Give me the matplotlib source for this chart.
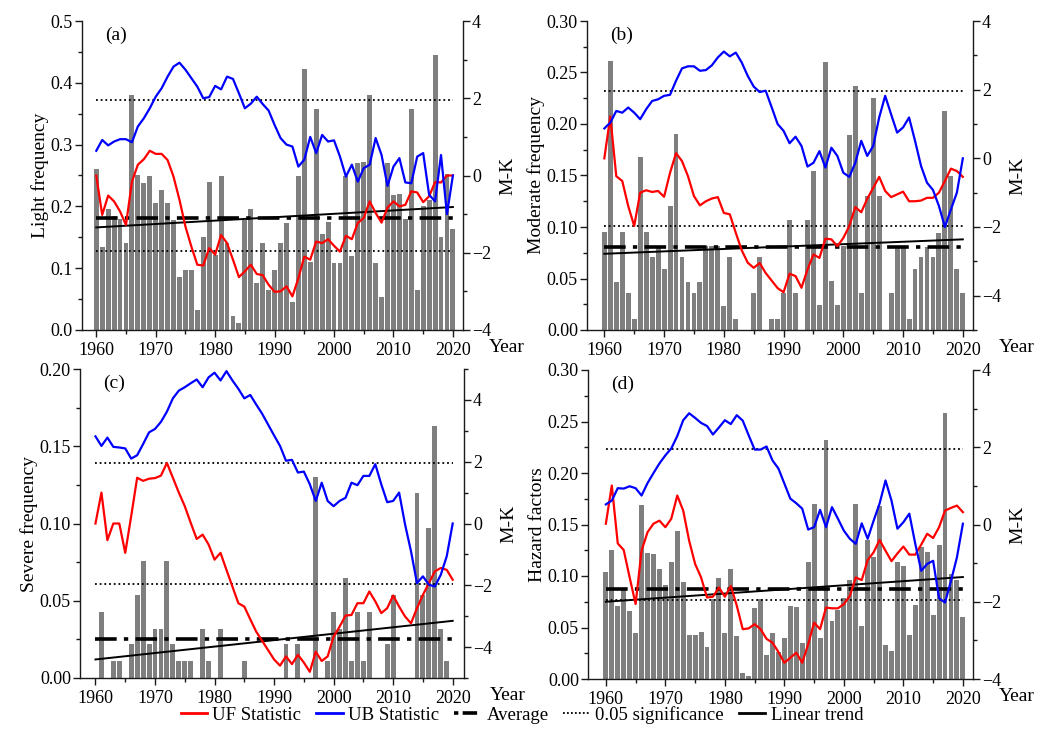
import matplotlib
matplotlib.use('Agg')
import matplotlib.pyplot as plt
from matplotlib.ticker import MultipleLocator, FormatStrFormatter
from matplotlib.lines import Line2D

plt.rcParams['font.family'] = ['Liberation Serif', 'DejaVu Serif']

years = list(range(1960, 2021))

# ---------------- (a) Light frequency ----------------
light_freq = [0.26, 0.134, 0.195, 0.184, 0.18, 0.141, 0.38, 0.251, 0.238, 0.25,
              0.206, 0.227, 0.206, 0.178, 0.086, 0.097, 0.097, 0.032, 0.151, 0.239,
              0.121, 0.25, 0.14, 0.022, 0.011, 0.178, 0.195, 0.076, 0.141, 0.065,
              0.097, 0.14, 0.173, 0.045, 0.249, 0.423, 0.11, 0.358, 0.155, 0.175,
              0.108, 0.108, 0.25, 0.119, 0.271, 0.272, 0.38, 0.108, 0.054, 0.271,
              0.218, 0.22, 0.18, 0.358, 0.065, 0.2, 0.21, 0.445, 0.151, 0.253, 0.163]
light_uf = [0.0, -1.02, -0.52, -0.67, -0.93, -1.28, -0.16, 0.28, 0.42, 0.64,
            0.56, 0.56, 0.4, -0.03, -0.63, -1.32, -1.84, -2.31, -2.33, -1.88,
            -2.05, -1.54, -1.75, -2.18, -2.63, -2.48, -2.31, -2.55, -2.58, -2.83,
            -3.01, -3.0, -2.87, -3.13, -2.66, -2.1, -2.18, -1.71, -1.75, -1.65,
            -1.82, -1.97, -1.56, -1.65, -1.23, -1.1, -0.67, -0.97, -1.22, -0.83,
            -0.67, -0.8, -0.76, -0.41, -0.44, -0.69, -0.54, -0.17, -0.18, 0.0, 0.0]
light_ub = [0.64, 0.92, 0.78, 0.88, 0.94, 0.94, 0.86, 1.27, 1.48, 1.74,
            2.04, 2.26, 2.56, 2.82, 2.92, 2.74, 2.52, 2.3, 2.0, 2.03,
            2.32, 2.23, 2.56, 2.5, 2.13, 1.74, 1.86, 2.04, 1.85, 1.68,
            1.31, 0.97, 0.8, 0.75, 0.23, 0.41, 1.0, 0.58, 1.05, 0.88,
            0.91, 0.49, -0.03, 0.28, -0.16, 0.19, 0.28, 0.97, 0.53, -0.27,
            0.23, 0.45, -0.18, -0.2, 0.49, 0.58, -0.5, -0.67, 0.53, -1.0, 0.0]
light_avg = 0.182
light_trend = [0.166, 0.199]

# ---------------- (b) Moderate frequency ----------------
moderate_freq = [0.095, 0.261, 0.047, 0.095, 0.036, 0.011, 0.168, 0.095, 0.071, 0.082,
                 0.059, 0.12, 0.19, 0.071, 0.047, 0.036, 0.047, 0.082, 0.082, 0.082,
                 0.023, 0.071, 0.011, 0.0, 0.0, 0.036, 0.071, 0.0, 0.011, 0.011,
                 0.036, 0.107, 0.036, 0.0, 0.107, 0.154, 0.024, 0.26, 0.048, 0.024,
                 0.082, 0.189, 0.237, 0.036, 0.13, 0.225, 0.13, 0.0, 0.036, 0.082,
                 0.082, 0.011, 0.059, 0.071, 0.081, 0.071, 0.094, 0.213, 0.15, 0.059, 0.036]
moderate_uf = [0.0, 1.22, -0.52, -0.66, -1.39, -1.97, -1.0, -0.93, -0.98, -0.95,
               -1.12, -0.42, 0.15, -0.08, -0.52, -1.1, -1.37, -1.25, -1.17, -1.13,
               -1.59, -1.63, -2.17, -2.68, -3.04, -3.19, -3.05, -3.34, -3.56, -3.78,
               -3.9, -3.36, -3.43, -3.77, -3.24, -2.8, -2.9, -2.34, -2.36, -2.56,
               -2.32, -1.97, -1.42, -1.57, -1.18, -0.86, -0.54, -0.95, -1.13, -1.05,
               -0.97, -1.25, -1.25, -1.23, -1.15, -1.15, -1.0, -0.66, -0.3, -0.37, -0.54]
moderate_ub = [0.87, 1.04, 1.38, 1.33, 1.48, 1.33, 1.14, 1.43, 1.67, 1.72,
               1.82, 1.85, 2.26, 2.62, 2.68, 2.68, 2.55, 2.57, 2.71, 2.94,
               3.11, 2.97, 3.08, 2.79, 2.4, 2.09, 1.93, 1.97, 1.49, 1.0,
               0.8, 0.44, 0.63, 0.36, -0.24, -0.13, 0.21, -0.27, 0.31, 0.07,
               -0.42, -0.54, -0.13, 0.51, 0.07, 0.36, 1.19, 1.82, 1.28, 0.75,
               0.9, 1.19, 0.51, -0.22, -0.71, -0.92, -1.39, -2.0, -1.49, -1.0, 0.0]
moderate_avg = 0.081
moderate_trend = [0.074, 0.088]

# ---------------- (c) Severe frequency ----------------
severe_freq = [0.0, 0.043, 0.0, 0.011, 0.011, 0.0, 0.022, 0.054, 0.076, 0.022,
               0.032, 0.032, 0.076, 0.022, 0.011, 0.011, 0.011, 0.0, 0.032, 0.011,
               0.0, 0.032, 0.0, 0.0, 0.0, 0.011, 0.0, 0.0, 0.0, 0.0,
               0.0, 0.0, 0.022, 0.0, 0.022, 0.0, 0.0, 0.13, 0.0, 0.011,
               0.043, 0.032, 0.065, 0.011, 0.043, 0.011, 0.043, 0.0, 0.0, 0.022,
               0.054, 0.0, 0.0, 0.0, 0.12, 0.054, 0.097, 0.163, 0.032, 0.011, 0.0]
severe_uf = [0.0, 1.0, -0.54, 0.0, 0.0, -0.95, 0.24, 1.48, 1.38, 1.45,
             1.47, 1.55, 1.96, 1.48, 1.0, 0.56, 0.02, -0.5, -0.36, -0.68,
             -1.17, -0.95, -1.5, -2.04, -2.58, -2.69, -3.1, -3.5, -3.8, -4.1,
             -4.4, -4.6, -4.3, -4.55, -4.25, -4.5, -4.8, -4.15, -4.45, -4.3,
             -3.66, -3.34, -2.98, -2.96, -2.58, -2.58, -2.2, -2.52, -2.9, -2.74,
             -2.33, -2.69, -3.01, -3.23, -2.74, -2.31, -1.93, -1.55, -1.44, -1.5, -1.82]
severe_ub = [2.82, 2.51, 2.78, 2.48, 2.46, 2.43, 2.1, 2.21, 2.57, 2.95,
             3.06, 3.29, 3.62, 4.05, 4.3, 4.41, 4.54, 4.66, 4.41, 4.73,
             4.88, 4.63, 4.93, 4.63, 4.36, 4.05, 4.16, 3.85, 3.55, 3.2,
             2.85, 2.51, 2.03, 2.06, 1.65, 1.68, 1.27, 0.73, 1.32, 0.73,
             0.56, 0.73, 0.83, 1.32, 1.24, 1.54, 1.54, 1.92, 1.27, 0.69,
             0.73, 1.0, -0.03, -0.9, -1.93, -1.71, -1.98, -2.04, -1.66, -1.06, 0.0]
severe_avg = 0.025
severe_trend = [0.012, 0.037]

# ---------------- (d) Hazard factors ----------------
hazard_freq = [0.104, 0.125, 0.071, 0.086, 0.066, 0.045, 0.169, 0.122, 0.121, 0.107,
               0.091, 0.114, 0.144, 0.094, 0.043, 0.043, 0.046, 0.031, 0.078, 0.098,
               0.045, 0.107, 0.042, 0.006, 0.003, 0.069, 0.078, 0.023, 0.045, 0.026,
               0.04, 0.071, 0.07, 0.035, 0.114, 0.17, 0.04, 0.232, 0.056, 0.067,
               0.079, 0.096, 0.17, 0.051, 0.135, 0.118, 0.168, 0.033, 0.027, 0.114,
               0.11, 0.043, 0.072, 0.128, 0.123, 0.062, 0.13, 0.258, 0.102, 0.096, 0.06]
hazard_uf = [0.02, 1.01, -0.49, -0.66, -1.37, -2.06, -0.68, -0.2, 0.02, 0.1,
             -0.07, 0.15, 0.75, 0.36, -0.42, -1.02, -1.37, -1.89, -1.87, -1.63,
             -1.87, -1.59, -2.1, -2.71, -2.69, -2.58, -2.71, -2.96, -3.06, -3.3,
             -3.58, -3.45, -3.32, -3.58, -3.1, -2.54, -2.71, -2.15, -2.17, -2.17,
             -2.06, -1.85, -1.37, -1.44, -0.92, -0.72, -0.4, -0.68, -0.95, -0.75,
             -0.57, -0.78, -0.78, -0.52, -0.24, -0.35, -0.07, 0.36, 0.43, 0.49, 0.32]
hazard_ub = [0.52, 0.62, 0.94, 0.93, 0.99, 0.94, 0.75, 1.07, 1.33, 1.58,
             1.79, 1.97, 2.29, 2.7, 2.88, 2.76, 2.63, 2.55, 2.33, 2.51,
             2.7, 2.6, 2.83, 2.69, 2.31, 1.94, 1.94, 2.02, 1.66, 1.45,
             1.06, 0.67, 0.55, 0.41, -0.13, -0.07, 0.38, -0.07, 0.45, 0.15,
             -0.16, -0.37, -0.5, 0.03, -0.37, 0.1, 0.54, 1.14, 0.62, -0.11,
             0.06, 0.28, -0.5, -1.2, -1.02, -0.94, -1.91, -2.02, -1.46, -0.85, 0.02]
hazard_avg = 0.087
hazard_trend = [0.075, 0.099]

sig_level = 1.96
trend_years = [1960, 2020]

W, H = 1046, 731
fig = plt.figure(figsize=(W / 100, H / 100), dpi=100)


def rect(l, r, t, b):
    return [l / W, 1 - b / H, (r - l) / W, (b - t) / H]


panels = [
    dict(rect=rect(82, 463, 21, 330), bars=light_freq, uf=light_uf, ub=light_ub,
         avg=light_avg, trend=light_trend, ylim=(0, 0.5), major=0.1, minor=0.05,
         fmt='%.1f', mk=(-4, 4), label='Light frequency', tag='(a)', xlim=(1957.6, 2021.7)),
    dict(rect=rect(587, 973, 21, 330), bars=moderate_freq, uf=moderate_uf, ub=moderate_ub,
         avg=moderate_avg, trend=moderate_trend, ylim=(0, 0.30), major=0.05, minor=0.025,
         fmt='%.2f', mk=(-5, 4), label='Moderate frequency', tag='(b)', xlim=(1957.1, 2021.7)),
    dict(rect=rect(80, 464, 369, 678), bars=severe_freq, uf=severe_uf, ub=severe_ub,
         avg=severe_avg, trend=severe_trend, ylim=(0, 0.20), major=0.05, minor=0.025,
         fmt='%.2f', mk=(-5, 5), label='Severe frequency', tag='(c)', xlim=(1957.4, 2021.9)),
    dict(rect=rect(588, 973, 370, 679), bars=hazard_freq, uf=hazard_uf, ub=hazard_ub,
         avg=hazard_avg, trend=hazard_trend, ylim=(0, 0.30), major=0.05, minor=0.025,
         fmt='%.2f', mk=(-4, 4), label='Hazard factors', tag='(d)', xlim=(1957.0, 2021.7)),
]

spine_c = '#1a1a1a'
tick_fs = 13
lab_fs = 14

for p in panels:
    ax = fig.add_axes(p['rect'])
    ax.bar(years, p['bars'], width=0.82, color='#7f7f7f', edgecolor='none', zorder=1)
    ax.plot([years[0], years[-1]], [p['avg'], p['avg']], color='black', lw=2.6,
            linestyle=(0, (6, 2.0, 1.2, 2.0)), zorder=3)
    ax.plot(trend_years, p['trend'], color='black', lw=1.4, zorder=3)
    ax.set_xlim(*p['xlim'])
    ax.set_ylim(*p['ylim'])
    ax.yaxis.set_major_locator(MultipleLocator(p['major']))
    ax.yaxis.set_minor_locator(MultipleLocator(p['minor']))
    ax.yaxis.set_major_formatter(FormatStrFormatter(p['fmt']))
    ax.xaxis.set_minor_locator(MultipleLocator(5))
    ax.set_xticks(range(1960, 2021, 10))
    ax.spines['top'].set_visible(False)
    ax.spines['right'].set_visible(False)
    for s in ('left', 'bottom'):
        ax.spines[s].set_color(spine_c)
        ax.spines[s].set_linewidth(1.0)
    ax.tick_params(which='both', direction='out', color=spine_c, labelsize=tick_fs, width=1.0)
    ax.tick_params(which='major', length=5)
    ax.tick_params(which='minor', length=3)
    ax.tick_params(axis='y', pad=1.5)
    ax.tick_params(axis='x', pad=3.5)
    ax.set_ylabel(p['label'], fontsize=lab_fs, labelpad=1)
    ax.text(0.06, 0.955, p['tag'], transform=ax.transAxes, fontsize=14, ha='left', va='center')
    ax.text(1.068, -0.058, 'Year', transform=ax.transAxes, fontsize=14, ha='left', va='center')

    ax2 = ax.twinx()
    ax2.plot([years[0], years[-1]], [sig_level, sig_level], color='black', lw=1.3,
             linestyle=(0, (1, 1.6)), zorder=2)
    ax2.plot([years[0], years[-1]], [-sig_level, -sig_level], color='black', lw=1.3,
             linestyle=(0, (1, 1.6)), zorder=2)
    ax2.plot(years, p['uf'], color='#ff0000', lw=1.6, zorder=4)
    ax2.plot(years, p['ub'], color='#0000ff', lw=1.6, zorder=4)
    ax2.set_ylim(*p['mk'])
    ax2.set_xlim(*p['xlim'])
    ax2.yaxis.set_major_locator(MultipleLocator(2))
    ax2.yaxis.set_minor_locator(MultipleLocator(1))
    for s in ('top', 'left', 'bottom'):
        ax2.spines[s].set_visible(False)
    ax2.spines['right'].set_color(spine_c)
    ax2.spines['right'].set_linewidth(1.0)
    ax2.tick_params(which='both', direction='out', color=spine_c, labelsize=tick_fs, width=1.0)
    ax2.tick_params(which='major', length=5)
    ax2.tick_params(which='minor', length=3)
    ax2.tick_params(axis='y', pad=1.5)
    ax2.set_ylabel('M-K', fontsize=lab_fs, labelpad=6)

handles = [
    Line2D([], [], color='#ff0000', lw=2),
    Line2D([], [], color='#0000ff', lw=2),
    Line2D([], [], color='black', lw=2.6, linestyle=(0, (1.2, 1.2, 4, 1.2))),
    Line2D([], [], color='black', lw=1.3, linestyle=(0, (1, 1.2))),
    Line2D([], [], color='black', lw=2),
]
labels = ['UF Statistic', 'UB Statistic', 'Average', '0.05 significance', 'Linear trend']
fig.legend(handles, labels, loc='center', bbox_to_anchor=(0.499, 0.022), ncol=5,
           frameon=False, fontsize=13.5, handlelength=1.4, handletextpad=0.3,
           columnspacing=0.8, borderaxespad=0)

fig.savefig('out.png', dpi=100)
